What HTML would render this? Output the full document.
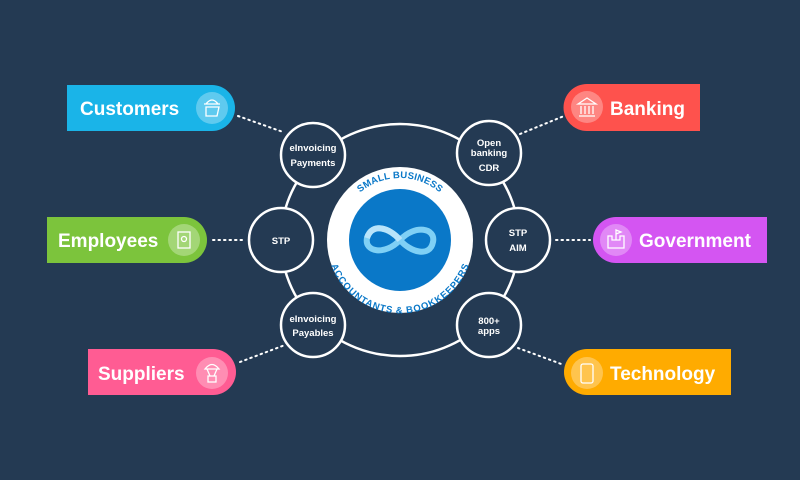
<!DOCTYPE html>
<html><head><meta charset="utf-8"><style>
html,body{margin:0;padding:0;background:#243a53;}
svg{display:block}
.lbl{font-family:"Liberation Sans",sans-serif;font-weight:bold;fill:#fff;font-size:19px}
.sm{font-family:"Liberation Sans",sans-serif;font-weight:bold;fill:#fff;font-size:9.5px;text-anchor:middle}
.arc{font-family:"Liberation Sans",sans-serif;font-weight:bold;fill:#0a78c8;font-size:9.5px;letter-spacing:0.2px}
</style></head><body>
<svg width="800" height="480" viewBox="0 0 800 480" xmlns="http://www.w3.org/2000/svg">
<rect width="800" height="480" fill="#243a53"/>
<g stroke="#fff" stroke-width="2" stroke-dasharray="1.5 4" stroke-linecap="round" fill="none">
<line x1="238" y1="116" x2="283" y2="132"/>
<line x1="213" y1="240" x2="245" y2="240"/>
<line x1="240" y1="362" x2="285" y2="345"/>
<line x1="520" y1="134" x2="564" y2="116"/>
<line x1="556" y1="240" x2="590" y2="240"/>
<line x1="518" y1="348" x2="564" y2="365"/>
</g>
<ellipse cx="400" cy="240" rx="119" ry="116" fill="none" stroke="#fff" stroke-width="2.5"/>
<g fill="#243a53" stroke="#fff" stroke-width="2.5">
<circle cx="313" cy="155" r="32"/><circle cx="281" cy="240" r="32"/><circle cx="313" cy="325" r="32"/>
<circle cx="489" cy="153" r="32"/><circle cx="518" cy="240" r="32"/><circle cx="489" cy="325" r="32"/>
</g>
<text class="sm" x="313" y="151">eInvoicing</text><text class="sm" x="313" y="166">Payments</text>
<text class="sm" x="281" y="244">STP</text>
<text class="sm" x="313" y="322">eInvoicing</text><text class="sm" x="313" y="336">Payables</text>
<text class="sm" x="489" y="146">Open</text><text class="sm" x="489" y="156">banking</text><text class="sm" x="489" y="171">CDR</text>
<text class="sm" x="518" y="236">STP</text><text class="sm" x="518" y="251">AIM</text>
<text class="sm" x="489" y="324">800+</text><text class="sm" x="489" y="334">apps</text>
<circle cx="400" cy="240" r="73" fill="#fff"/>
<circle cx="400" cy="240" r="51" fill="#0a78c8"/>
<defs>
<path id="top" d="M338,240 A62,62 0 0 1 462,240"/>
<path id="bot" d="M333,240 A67,67 0 0 0 467,240"/>
</defs>
<text class="arc"><textPath href="#top" startOffset="50%" text-anchor="middle">SMALL BUSINESS</textPath></text>
<text class="arc"><textPath href="#bot" startOffset="50%" text-anchor="middle" dominant-baseline="hanging">ACCOUNTANTS &amp; BOOKKEEPERS</textPath></text>
<g fill="none" stroke="#7fd0f5" stroke-width="6">
<path d="M400,240 C390,228 372,222 367,238 C364,252 385,256 400,240 C415,224 436,228 433,242 C430,258 410,252 400,240"/>
</g>
<path d="M400,240 C390,228 372,222 367,238" fill="none" stroke="#b9e4fa" stroke-width="6"/>
<path d="M67,85 H212 A23,23 0 0 1 212,131 H67 Z" fill="#1ab4e8"/>
<circle cx="212" cy="108" r="16" fill="#fff" opacity="0.3"/>
<text class="lbl" x="80" y="115">Customers</text>
<path d="M47,217 H184 A23,23 0 0 1 184,263 H47 Z" fill="#7cc43c"/>
<circle cx="184" cy="240" r="16" fill="#fff" opacity="0.3"/>
<text class="lbl" x="58" y="247">Employees</text>
<path d="M88,349 H213 A23,23 0 0 1 213,395 H88 Z" fill="#ff5c93"/>
<circle cx="212" cy="373" r="16" fill="#fff" opacity="0.3"/>
<text class="lbl" x="98" y="380">Suppliers</text>
<path d="M700,84 H587 A23,23 0 0 0 587,131 H700 Z" fill="#fe524d"/>
<circle cx="587" cy="107" r="16" fill="#fff" opacity="0.3"/>
<text class="lbl" x="610" y="115">Banking</text>
<path d="M767,217 H616 A23,23 0 0 0 616,263 H767 Z" fill="#d455f2"/>
<circle cx="616" cy="240" r="16" fill="#fff" opacity="0.3"/>
<text class="lbl" x="639" y="247">Government</text>
<path d="M731,349 H587 A23,23 0 0 0 587,395 H731 Z" fill="#ffab00"/>
<circle cx="587" cy="373" r="16" fill="#fff" opacity="0.3"/>
<text class="lbl" x="610" y="380">Technology</text>
<g stroke="#fff" stroke-width="1.3" fill="none">
<path d="M204,104 H220 M206,104 Q212,96 218,104 M206,107 H219 L217,116 H206 Z"/>
<rect x="178" y="232" width="12" height="16"/><circle cx="184" cy="239" r="2.5"/>
<path d="M205,369 Q212,360 219,369 Z M207,369 L210,376 M217,369 L214,376"/><rect x="208" y="376" width="8" height="6"/>
<path d="M578,104 L587,98 L596,104 Z M579,116 H595 M581,106 V114 M585,106 V114 M589,106 V114 M593,106 V114"/>
<path d="M608,248 V236 H612 V240 H620 V236 H624 V248 Z M616,240 V230 L621,232 L616,234"/>
<rect x="581" y="364" width="12" height="19" rx="2"/>
</g>
</svg>
</body></html>
